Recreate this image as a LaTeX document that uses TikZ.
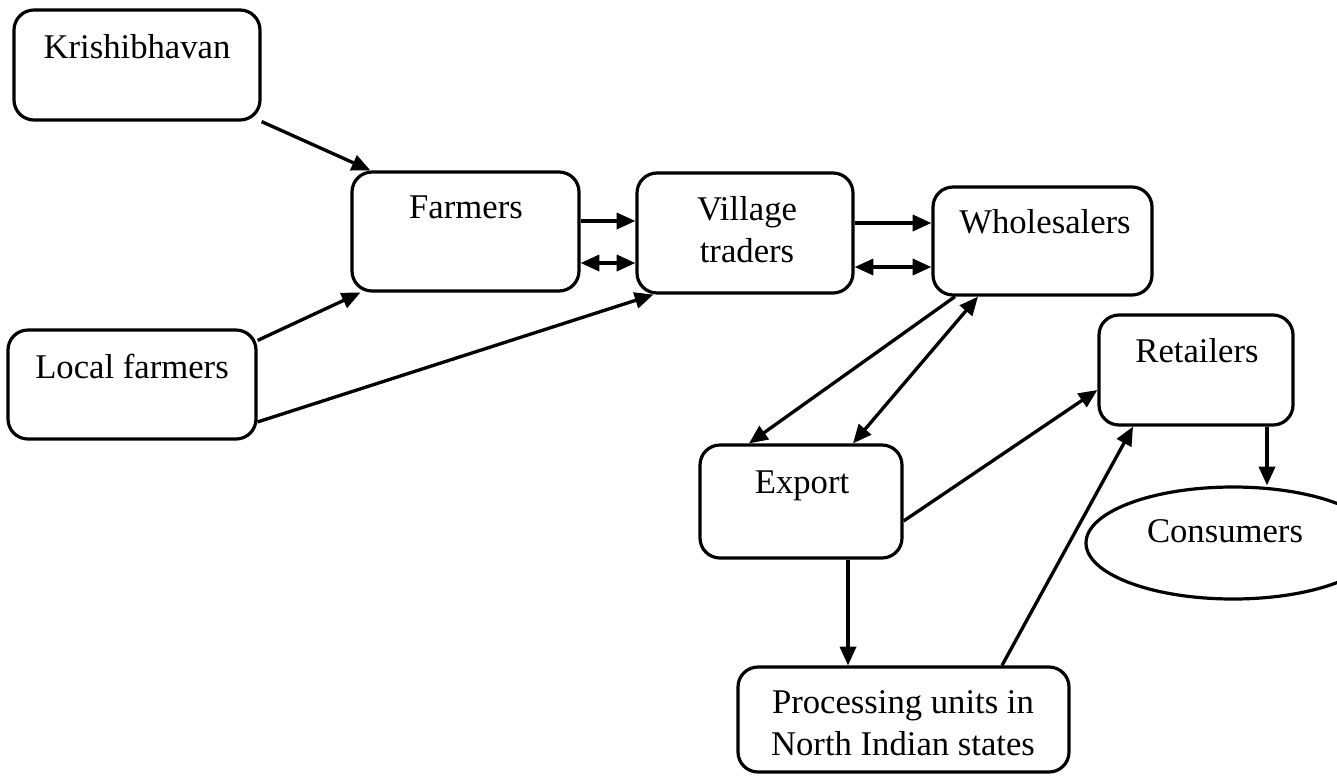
\documentclass[tikz,border=0pt]{standalone}
\usepackage{fontspec}
\setmainfont{Liberation Serif}
\usetikzlibrary{arrows.meta,shapes.geometric}
\begin{document}
\begin{tikzpicture}[x=0.75pt,y=-0.75pt,
  box/.style={draw,line width=2.4pt,rounded corners=15pt,inner sep=0pt},
  oval/.style={draw,line width=2.4pt,ellipse,inner sep=0pt},
  lbl/.style={anchor=base,inner sep=0pt,font=\fontsize{26}{31.5}\selectfont},
  tip/.style={Triangle[length=14pt,width=12pt]},
  arr/.style={line width=2.5pt,-{Triangle[length=14pt,width=12pt]}},
  darr/.style={line width=2.5pt,{Triangle[length=14pt,width=12pt]}-{Triangle[length=14pt,width=12pt]}}]
\useasboundingbox (0,0) rectangle (1337,775);
% boxes
\node[box,minimum width=184.5pt,minimum height=82.5pt] (krishi) at (137,65) {};
\node[box,minimum width=170.25pt,minimum height=89.25pt] (farmers) at (465.5,231.5) {};
\node[box,minimum width=162pt,minimum height=90pt] (village) at (745,233) {};
\node[box,minimum width=164.25pt,minimum height=81pt] (wholesalers) at (1042.5,241) {};
\node[box,minimum width=145.5pt,minimum height=82.5pt] (retailers) at (1196,370) {};
\node[box,minimum width=186pt,minimum height=81.75pt] (local) at (132,384.5) {};
\node[box,minimum width=151.5pt,minimum height=84.75pt] (export) at (801,501.5) {};
\node[box,minimum width=248.25pt,minimum height=78.75pt] (processing) at (903.5,719.5) {};
\node[oval,minimum width=220.5pt,minimum height=84pt] (consumers) at (1233,543) {};
% labels
\node[lbl] (krishiT) at (137,58) {Krishibhavan};
\node[lbl] (farmersT) at (466,218) {Farmers};
\node[lbl] (villageT) at (747,220) {\begin{tabular}[t]{@{}c@{}}Village\\traders\end{tabular}};
\node[lbl] (wholesalersT) at (1045,233) {Wholesalers};
\node[lbl] (retailersT) at (1197,362) {Retailers};
\node[lbl] (localT) at (132,378) {Local farmers};
\node[lbl] (exportT) at (802,493) {Export};
\node[lbl] (processingT) at (903,713) {\begin{tabular}[t]{@{}c@{}}Processing units in\\North Indian states\end{tabular}};
\node[lbl] (consumersT) at (1225,542) {Consumers};
% connectors
\draw[arr] (krishi.south east) -- ([xshift=15pt]farmers.north west);
\draw[arr] ([yshift=-9pt]local.north east) -- ([xshift=7.5pt]farmers.south west);
\draw[arr] ([yshift=14pt]local.south east) -- ([xshift=13.5pt]village.south west);
\draw[arr] (farmers.east |- 0,221) -- (village.west |- 0,221);
\draw[darr] (farmers.east |- 0,263) -- (village.west |- 0,263);
\draw[arr] (village.east |- 0,223) -- (wholesalers.west |- 0,223);
\draw[darr] (village.east |- 0,267) -- (wholesalers.west |- 0,267);
\draw[arr] (wholesalers.south -| 955,0) -- (export.north -| 749,0);
\draw[darr] (export.north -| 853,0) -- (wholesalers.south -| 978,0);
\draw[arr] (export.east |- 0,521) -- (retailers.west |- 0,390);
\draw[arr] (processing.north -| 1002,0) -- (retailers.south -| 1133,0);
\draw[arr] (export.south -| 848,0) -- (processing.north -| 848,0);
\draw[arr] (retailers.south -| 1267,0) -- (consumers.north -| 1267,0);
\end{tikzpicture}
\end{document}
